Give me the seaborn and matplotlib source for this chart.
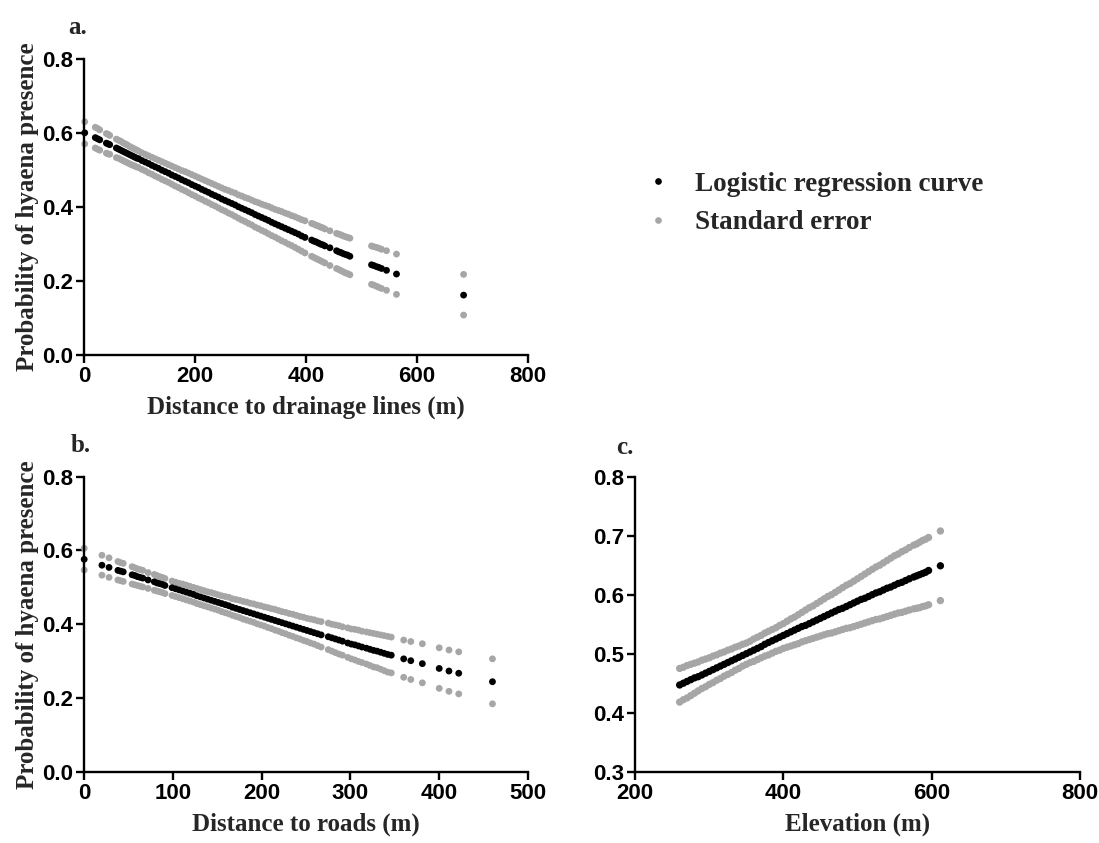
import numpy as np
import pandas as pd
import matplotlib
matplotlib.use("Agg")
import matplotlib.pyplot as plt
import seaborn as sns
from matplotlib.lines import Line2D
from matplotlib.font_manager import FontProperties

# ---------------- Panel a: distance to drainage lines ----------------
a_x = [1, 20, 24, 28, 40, 43, 46, 58, 62, 66, 70, 74, 78, 82, 86, 90, 94,
       98, 104, 110, 116, 122, 128, 134, 140, 146, 152, 158, 164, 170, 176, 182, 188, 194,
       200, 206, 212, 218, 224, 230, 236, 242, 248, 254, 260, 266, 272, 278, 284, 290, 296,
       302, 308, 314, 320, 326, 332, 338, 344, 350, 356, 362, 368, 374, 380, 386, 392, 398,
       410, 414, 418, 422, 426, 430, 434, 443, 455, 459, 463, 467, 471, 475, 479,
       518, 522, 527, 531, 536, 545, 563, 684]
a_fit = [.601, .588, .585, .582, .573, .571, .569, .560, .557, .554, .551, .548, .545, .542, .539, .536, .533,
         .531, .526, .522, .518, .513, .509, .505, .500, .496, .492, .487, .483, .479, .474, .470, .466, .461,
         .457, .453, .448, .444, .440, .435, .431, .427, .422, .418, .414, .410, .406, .401, .397, .393, .389,
         .385, .380, .376, .372, .368, .364, .359, .355, .351, .347, .343, .339, .335, .331, .327, .322, .318,
         .311, .308, .306, .303, .300, .298, .295, .290, .282, .279, .277, .274, .272, .270, .267,
         .244, .242, .239, .237, .234, .229, .219, .162]
a_upper = [.631, .616, .613, .609, .599, .597, .594, .584, .581, .578, .574, .571, .568, .564, .561, .558, .555,
           .552, .547, .543, .539, .535, .531, .527, .523, .519, .515, .511, .507, .503, .499, .496, .492, .488,
           .484, .480, .476, .472, .468, .464, .460, .456, .452, .448, .445, .441, .438, .433, .430, .426, .423,
           .419, .415, .412, .408, .405, .402, .398, .394, .391, .388, .384, .381, .377, .374, .370, .366, .363,
           .356, .354, .351, .349, .346, .344, .341, .336, .329, .327, .325, .322, .320, .318, .316,
           .295, .293, .291, .289, .286, .282, .273, .218]
a_lower = [.571, .560, .557, .554, .546, .544, .543, .534, .532, .529, .526, .523, .520, .517, .514, .512, .509,
           .507, .502, .498, .493, .489, .484, .480, .475, .471, .467, .462, .457, .453, .448, .444, .439, .434,
           .430, .425, .421, .416, .412, .407, .403, .398, .393, .389, .384, .380, .375, .370, .365, .361, .356,
           .352, .346, .342, .337, .333, .328, .323, .319, .314, .309, .305, .300, .296, .291, .286, .281, .276,
           .267, .264, .261, .258, .255, .252, .249, .242, .234, .231, .228, .225, .222, .220, .217,
           .191, .189, .186, .183, .180, .175, .164, .108]

# ---------------- Panel b: distance to roads ----------------
b_x = [0, 20, 28, 38, 41, 44, 54, 57, 60, 63, 66, 72, 79, 82, 85, 88, 91,
       99, 103, 107, 111, 115, 119, 123, 127, 131, 135, 139, 143, 147, 151, 155, 159, 163, 167,
       171, 175, 179, 183, 187, 191, 195, 199, 203, 207, 211, 215, 219, 223, 227, 231, 235, 239,
       243, 247, 251, 255, 259, 263, 267, 275, 279, 283, 287, 291, 297, 301, 305, 309, 313,
       318, 322, 326, 330, 334, 338, 342, 346, 360, 368, 381, 400, 411, 422, 460]
b_fit = [.576, .560, .554, .546, .544, .542, .534, .532, .529, .527, .525, .520, .515, .512, .510, .508, .505,
         .499, .496, .493, .490, .487, .484, .481, .477, .474, .471, .468, .465, .462, .459, .456, .453, .450, .446,
         .443, .440, .437, .434, .431, .428, .425, .422, .419, .416, .413, .410, .407, .404, .401, .398, .395, .392,
         .389, .386, .383, .380, .377, .374, .371, .366, .363, .360, .357, .354, .349, .346, .344, .341, .338,
         .335, .332, .329, .327, .324, .321, .318, .316, .306, .301, .293, .280, .273, .267, .244]
b_upper = [.606, .587, .580, .570, .567, .565, .556, .553, .550, .548, .546, .540, .535, .532, .529, .527, .524,
           .517, .514, .511, .509, .506, .503, .500, .497, .494, .491, .488, .486, .483, .480, .477, .475, .473, .469,
           .467, .465, .462, .460, .457, .455, .452, .450, .447, .445, .442, .440, .437, .434, .432, .429, .427, .424,
           .421, .419, .416, .414, .412, .409, .407, .403, .400, .398, .396, .393, .390, .387, .386, .384, .381,
           .379, .377, .375, .373, .371, .369, .367, .365, .357, .353, .347, .336, .330, .325, .306]
b_lower = [.547, .533, .527, .520, .518, .516, .509, .507, .505, .503, .501, .497, .492, .490, .488, .486, .483,
           .478, .475, .472, .469, .466, .463, .460, .456, .453, .450, .447, .444, .441, .438, .434, .431, .428, .424,
           .421, .418, .414, .411, .408, .405, .401, .398, .395, .391, .388, .384, .381, .377, .374, .370, .367, .363,
           .360, .356, .353, .349, .346, .342, .338, .331, .327, .323, .319, .316, .310, .306, .303, .299, .296,
           .292, .288, .284, .282, .278, .274, .270, .268, .256, .250, .241, .226, .218, .211, .184]

# ---------------- Panel c: elevation ----------------
c_x = [260, 265, 270, 275, 280, 285, 290, 295, 300, 305, 310, 315, 320, 325, 330, 335, 340, 345,
       350, 355, 360, 365, 370, 375, 380, 385, 390, 395, 400, 405, 410, 415, 420, 425, 430, 435,
       440, 445, 450, 455, 460, 465, 470, 475, 480, 485, 490, 495, 500, 505, 510, 515, 520, 525,
       530, 535, 540, 545, 550, 555, 560, 565, 570, 576, 580, 584, 588, 592, 596, 612]
c_fit = [.447, .450, .453, .456, .459, .461, .464, .467, .470, .473, .476, .479, .482, .485, .488, .491, .494, .497,
         .500, .503, .506, .509, .512, .516, .519, .522, .525, .528, .531, .534, .537, .540, .543, .546, .548, .551,
         .554, .557, .560, .563, .566, .569, .572, .575, .577, .580, .583, .586, .589, .592, .594, .597, .600, .603,
         .605, .608, .611, .613, .616, .619, .621, .624, .627, .630, .632, .634, .636, .638, .641, .649]
c_upper = [.475, .477, .480, .482, .484, .486, .489, .491, .493, .496, .498, .501, .503, .506, .508, .511, .513, .516,
           .518, .521, .525, .528, .531, .535, .538, .541, .544, .548, .551, .555, .559, .562, .566, .570, .574, .578,
           .581, .585, .589, .593, .597, .600, .604, .608, .612, .616, .619, .623, .627, .631, .635, .639, .643, .647,
           .650, .654, .658, .662, .666, .669, .673, .676, .680, .684, .686, .689, .692, .694, .697, .708]
c_lower = [.418, .422, .425, .429, .433, .437, .441, .444, .448, .451, .455, .458, .462, .465, .468, .472, .475, .479,
           .482, .485, .487, .490, .493, .496, .498, .501, .504, .506, .509, .511, .513, .515, .517, .520, .522, .524,
           .526, .528, .530, .532, .534, .535, .537, .539, .541, .543, .544, .546, .548, .550, .552, .554, .556, .558,
           .559, .561, .563, .565, .567, .569, .570, .572, .574, .576, .577, .578, .580, .581, .583, .590]

series_names = ["Logistic regression curve", "Standard error"]
palette = {"Logistic regression curve": "#000000", "Standard error": "#a6a6a6"}


def long_df(x, fit, upper, lower):
    n = len(x)
    return pd.DataFrame({
        "x": list(x) * 3,
        "y": list(upper) + list(lower) + list(fit),
        "series": [series_names[1]] * (2 * n) + [series_names[0]] * n,
    })


sns.set_theme(style="ticks")
plt.rcParams['font.family'] = ['Liberation Sans', 'DejaVu Sans']
plt.rcParams['font.weight'] = 'bold'

SERIF = ['Liberation Serif', 'DejaVu Serif']

fig = plt.figure(figsize=(10.99, 8.43), dpi=100)
ax_a = fig.add_axes([0.0766, 0.5789, 0.4038, 0.3508])
ax_b = fig.add_axes([0.0766, 0.0846, 0.4038, 0.3499])
ax_c = fig.add_axes([0.578, 0.0846, 0.4044, 0.3499])

panels = [
    (ax_a, long_df(a_x, a_fit, a_upper, a_lower), (0, 800), (0, 0.8),
     [0, 200, 400, 600, 800], [0.0, 0.2, 0.4, 0.6, 0.8], "Distance to drainage lines (m)", True, 24),
    (ax_b, long_df(b_x, b_fit, b_upper, b_lower), (0, 500), (0, 0.8),
     [0, 100, 200, 300, 400, 500], [0.0, 0.2, 0.4, 0.6, 0.8], "Distance to roads (m)", True, 24),
    (ax_c, long_df(c_x, c_fit, c_upper, c_lower), (200, 800), (0.3, 0.8),
     [200, 400, 600, 800], [0.3, 0.4, 0.5, 0.6, 0.7, 0.8], "Elevation (m)", False, 28),
]

for ax, df, xl, yl, xt, yt, xlabel, has_ylabel, msize in panels:
    sns.scatterplot(data=df, x="x", y="y", hue="series", palette=palette,
                    s=msize, linewidth=0, edgecolor="none", legend=False,
                    ax=ax, clip_on=False)
    ax.set_xlim(*xl)
    ax.set_ylim(*yl)
    ax.set_xticks(xt)
    ax.set_yticks(yt)
    ax.set_yticklabels([f"{v:.1f}" for v in yt])
    sns.despine(ax=ax)
    for sp in ("left", "bottom"):
        ax.spines[sp].set_linewidth(1.7)
        ax.spines[sp].set_color("black")
    ax.tick_params(axis="both", direction="out", length=6, width=1.7,
                   colors="black", labelsize=16, pad=2)
    ax.set_xlabel(xlabel, fontfamily=SERIF, fontsize=18, fontweight="bold", labelpad=6)
    if has_ylabel:
        ax.set_ylabel("Probability of hyaena presence", fontfamily=SERIF,
                      fontsize=18, fontweight="bold", labelpad=2)
    else:
        ax.set_ylabel("")

# panel letters
fig.text(78 / 1099, 1 - 27 / 843, "a.", ha="center", va="center",
         fontfamily=SERIF, fontsize=18, fontweight="bold")
fig.text(81 / 1099, 1 - 446 / 843, "b.", ha="center", va="center",
         fontfamily=SERIF, fontsize=18, fontweight="bold")
fig.text(625 / 1099, 1 - 448 / 843, "c.", ha="center", va="center",
         fontfamily=SERIF, fontsize=18, fontweight="bold")

handles = [Line2D([], [], marker="o", ls="", color=palette[n], markersize=4.8,
                  markeredgewidth=0) for n in series_names]
fig.legend(handles=handles, labels=series_names, loc="center left",
           bbox_to_anchor=(645.5 / 1099, 1 - 203.5 / 843), frameon=False,
           prop=FontProperties(family=SERIF, weight="bold", size=19.5),
           handlelength=0.92, handletextpad=0.9, borderpad=0, labelspacing=0.5,
           borderaxespad=0)

fig.savefig("out.png", dpi=100)
